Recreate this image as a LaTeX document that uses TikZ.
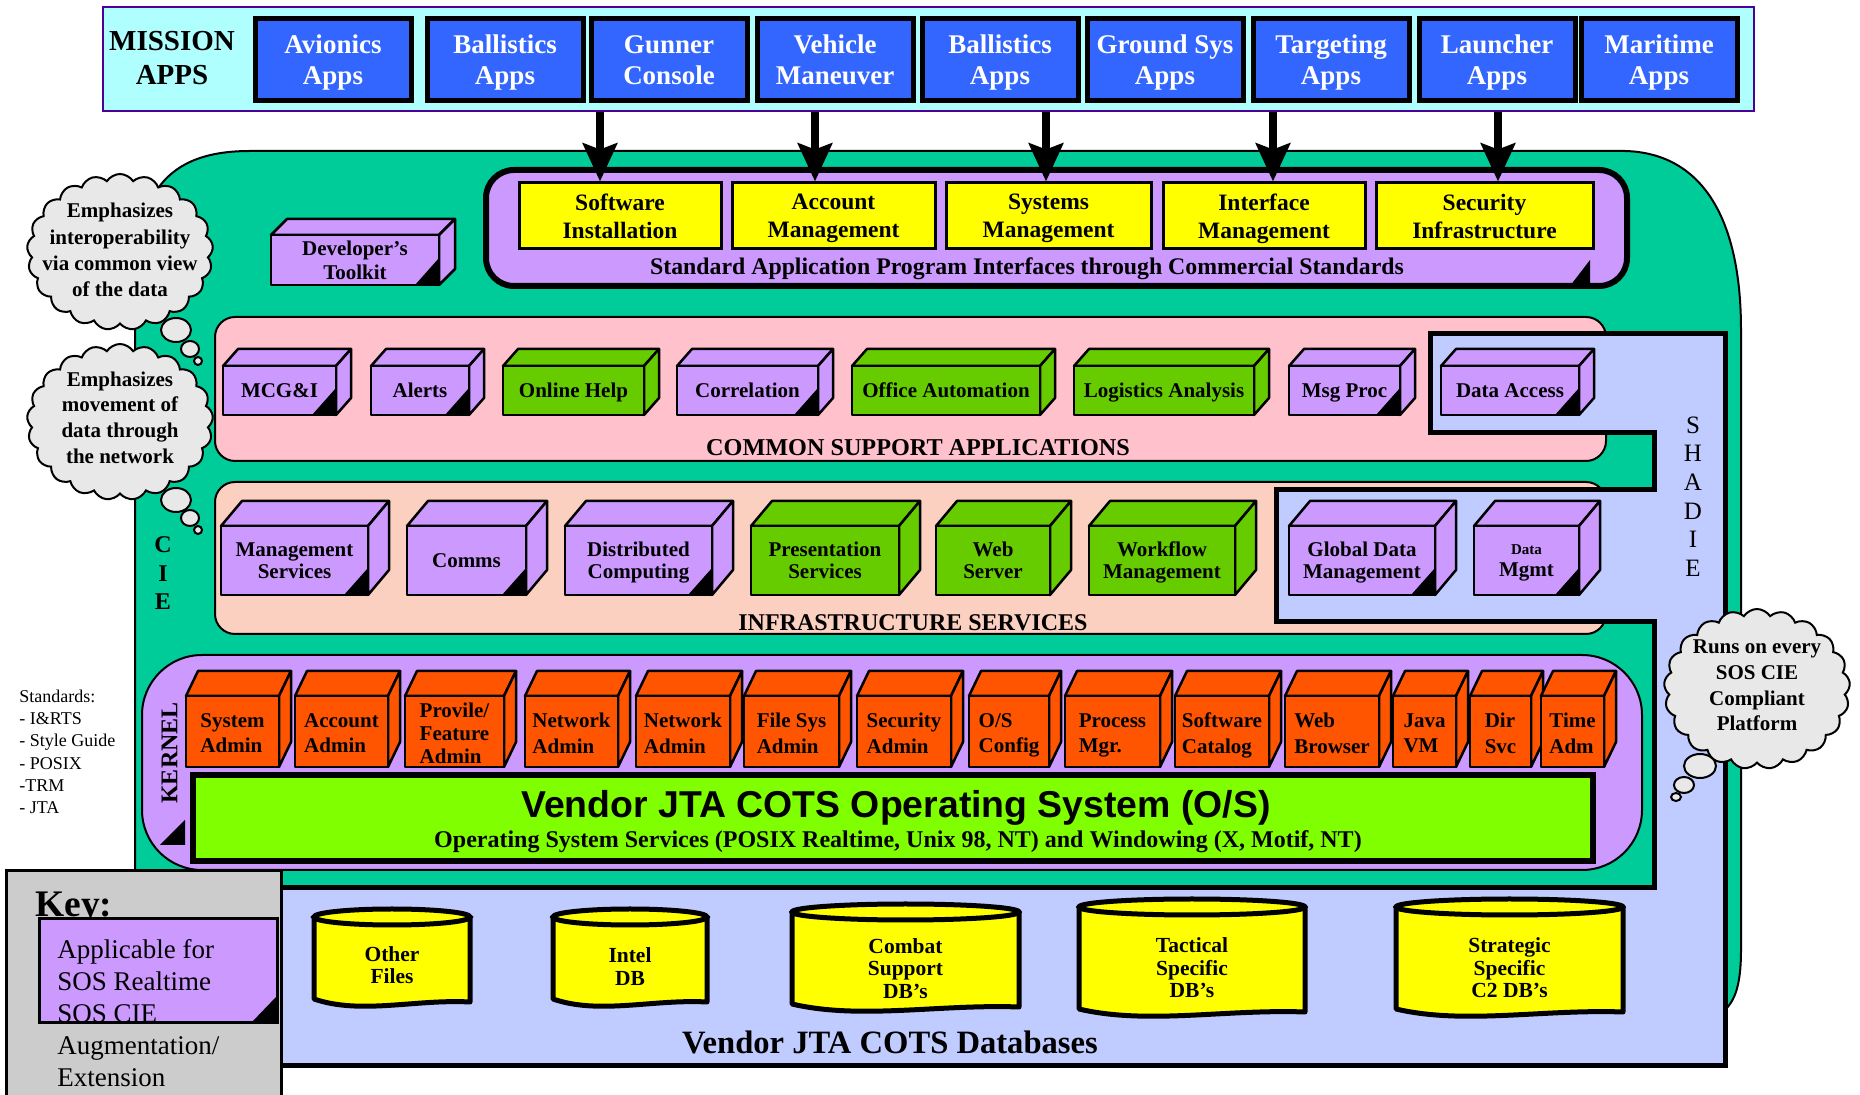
\documentclass[tikz,border=0pt]{standalone}
\usepackage{fontspec}
\setmainfont{Liberation Serif}
\newfontfamily\sansfam{Liberation Sans}
\usetikzlibrary{shapes.symbols,arrows.meta}
\newcommand\fs[2]{\fontsize{#1}{#2}\selectfont}
\definecolor{missionbg}{HTML}{B0FFFF}
\definecolor{missionbd}{HTML}{4B0096}
\definecolor{appblue}{HTML}{3366FF}
\definecolor{cieg}{HTML}{00CC99}
\definecolor{lav}{HTML}{CC99FF}
\definecolor{yel}{HTML}{FFFF00}
\definecolor{pinkb}{HTML}{FFC1CC}
\definecolor{peach}{HTML}{FCD0C0}
\definecolor{gbox}{HTML}{66CC00}
\definecolor{obox}{HTML}{FF5500}
\definecolor{osg}{HTML}{80FF00}
\definecolor{shade}{HTML}{C0CCFF}
\definecolor{keyg}{HTML}{CCCCCC}
\definecolor{cloudg}{HTML}{E8E8E8}
\def\cdx{15}\def\cdy{17}
% #1 name #2 x1 #3 ytop #4 x2 #5 ybot #6 fill #7 text #8 triangle
\newcommand\cubebox[8]{%
  \filldraw[fill=#6, cubeline] (#2,#3) -- ({#2+\cdx},{#3-\cdy}) -- ({#4+\cdx},{#3-\cdy}) -- (#4,#3) -- cycle;
  \filldraw[fill=#6, cubeline] (#4,#3) -- ({#4+\cdx},{#3-\cdy}) -- ({#4+\cdx},{#5-\cdy}) -- (#4,#5) -- cycle;
  \filldraw[fill=#6, cubeline] (#2,#3) rectangle (#4,#5);
  \ifnum#8=1 \fill (#4,#5) -- (#4,{#5-27}) -- ({#4-24},#5) -- cycle;\fi
  \node[cubetext] (#1) at ({(#2+#4)/2},{(#3+#5)/2+\ctoff}) {#7};
}
\def\ctoff{0}
% #1 name #2 x1 #3 x2 #4 ytop #5 ybot #6 text center y #7 text
\newcommand\dbcyl[7]{%
  \filldraw[fill=yel, draw=black, line width=2.5pt, line join=round] (#2,{#4+9}) -- (#2,{#5-9})
    .. controls ({#2+0.3*(#3-#2)},{#5+7}) and ({#2+0.65*(#3-#2)},{#5-9}) .. (#3,{#5-6}) -- (#3,{#4+9}) -- cycle;
  \filldraw[fill=yel, draw=black, line width=2.5pt] ({(#2+#3)/2},{#4+9}) ellipse [x radius={(#3-#2)/2}, y radius=8];
  \node[dbtext] (#1) at ({(#2+#3)/2},#6) {#7};
}
\begin{document}
\begin{tikzpicture}[x=0.5pt,y=-0.5pt,
  ts/.style={text depth=0pt},
  appbox/.style={draw=black, line width=2.5pt, fill=appblue, text=white, font=\bfseries\fs{13.5}{15.5}, align=center, minimum width=78pt, minimum height=41pt, inner sep=0pt, ts},
  ybox/.style={draw=black, line width=1.5pt, fill=yel, font=\bfseries\fs{11.75}{14}, align=center, minimum height=33pt, inner sep=0pt, ts},
  cubeline/.style={draw=black, line width=1.25pt, line join=round},
  cubetext/.style={font=\bfseries\fs{10.5}{11}, align=center, inner sep=0pt, ts},
  dbtext/.style={font=\bfseries\fs{10.75}{11.25}, align=center, inner sep=0pt, ts},
  lbl/.style={inner sep=0pt, ts},
  bigarrow/.style={line width=4pt, -{Stealth[length=19pt,width=17pt,inset=3pt]}},
  region/.style={draw=black, line width=1pt},
  cloudbox/.style={cloud, cloud puffs=21, cloud puff arc=115, cloud ignores aspect, draw=black, line width=1pt, fill=cloudg, inner sep=0pt},
  cloudtext/.style={font=\bfseries\fs{10.5}{13}, align=center, inner sep=0pt, ts},
  bubble/.style={fill=cloudg, draw=black, line width=1pt}
]
\useasboundingbox (0,0) rectangle (1860,1095);

% main green CIE region
\filldraw[fill=cieg, region] (135,1010) -- (135,290) .. controls (135,195) and (165,151) .. (250,151)
  -- (1625,151) .. controls (1700,153) and (1741,215) .. (1741,330) -- (1741,950)
  .. controls (1741,985) and (1735,1000) .. (1725,1010) -- cycle;

% mission apps
\node[draw=missionbd, line width=1.25pt, fill=missionbg, minimum width=825.5pt, minimum height=52pt, inner sep=0pt] (mission) at (928.5,59) {};
\node[lbl, font=\bfseries\fs{14.5}{17}, align=center] (mt) at (172,58) {MISSION\\APPS};
\node[appbox] (av) at (333,60) {Avionics\\Apps};
\node[appbox] (ba1) at (505,60) {Ballistics\\Apps};
\node[appbox] (gc) at (669,60) {Gunner\\Console};
\node[appbox] (vm) at (835,60) {Vehicle\\Maneuver};
\node[appbox] (ba2) at (1000,60) {Ballistics\\Apps};
\node[appbox] (gs) at (1165,60) {Ground Sys\\Apps};
\node[appbox] (ta) at (1331,60) {Targeting\\Apps};
\node[appbox] (la) at (1497,60) {Launcher\\Apps};
\node[appbox] (ma) at (1659,60) {Maritime\\Apps};

% API box
\node[draw=black, fill=lav, line width=3pt, rounded corners=14pt, minimum width=570.5pt, minimum height=58pt, inner sep=0pt] (api) at (1056.5,228) {};
\fill (1570,286) -- (1590,260) -- (1590,286) -- cycle;
\node[ybox, minimum width=101pt] (sw) at (620,216) {Software\\Installation};
\node[ybox, minimum width=101.5pt] (am) at (833.5,216) {Account\\Management};
\node[ybox, minimum width=102.5pt] (sm) at (1048.5,216) {Systems\\Management};
\node[ybox, minimum width=101pt] (im) at (1264,216) {Interface\\Management};
\node[ybox, minimum width=108.5pt] (si) at (1484.5,216) {Security\\Infrastructure};
\node[lbl, font=\bfseries\fs{11.9}{13}] (apit) at (1027,266) {Standard Application Program Interfaces through Commercial Standards};

% arrows
\coordinate (a1) at (600,111);
\coordinate (a2) at (815,111);
\coordinate (a3) at (1046,111);
\coordinate (a4) at (1273,111);
\coordinate (a5) at (1498,111);
\draw[bigarrow] (mission.south -| a1) -- (a1 |- sw.north);
\draw[bigarrow] (mission.south -| a2) -- (a2 |- am.north);
\draw[bigarrow] (mission.south -| a3) -- (a3 |- sm.north);
\draw[bigarrow] (mission.south -| a4) -- (a4 |- im.north);
\draw[bigarrow] (mission.south -| a5) -- (a5 |- si.north);

% developer's toolkit
\tikzset{cubetext/.style={font=\bfseries\fs{10.5}{12}, align=center, inner sep=0pt, ts}}
\def\cdx{16}\def\cdy{16}
\cubebox{dev}{271}{235}{439}{285}{lav}{Developer’s\\Toolkit}{1}

% common support applications
\filldraw[fill=pinkb, region, rounded corners=10pt] (215,317) rectangle (1606,461);
\node[lbl, font=\bfseries\fs{12.1}{13}] (csat) at (918,447) {COMMON SUPPORT APPLICATIONS};
% infrastructure services
\filldraw[fill=peach, region, rounded corners=10pt] (215,482) rectangle (1606,634);
\node[lbl, font=\bfseries\fs{12}{13}] (inft) at (913,623) {INFRASTRUCTURE SERVICES};

% SHADE region
\filldraw[fill=shade, draw=black, line width=2.5pt] (1430,334) -- (1725,334) -- (1725,1066) -- (250,1066) -- (250,888)
  -- (1654,888) -- (1654,622) -- (1276,622) -- (1276,490) -- (1654,490) -- (1654,433) -- (1430,433) -- cycle;
\node[lbl, font=\fs{12.5}{14.3}, align=center] (shadet) at (1693,496.5) {S\\H\\A\\D\\I\\E};
\node[lbl, font=\bfseries\fs{12}{14.25}, align=center] (ciet) at (163,573.5) {C\\I\\E};

\tikzset{cubetext/.style={font=\bfseries\fs{10.5}{11}, align=center, inner sep=0pt, ts}}
\def\cdx{15}\def\cdy{17}
\cubebox{mcg}{223}{366}{336}{415}{lav}{MCG\&I}{1}
\cubebox{alerts}{371}{366}{469}{415}{lav}{Alerts}{1}
\cubebox{help}{503}{366}{644}{415}{gbox}{Online Help}{0}
\cubebox{corr}{677}{366}{818}{415}{lav}{Correlation}{1}
\cubebox{office}{852}{366}{1040}{415}{gbox}{Office Automation}{0}
\cubebox{logi}{1074}{366}{1254}{415}{gbox}{Logistics Analysis}{0}
\cubebox{msg}{1289}{366}{1400}{415}{lav}{Msg Proc}{1}
\cubebox{daccess}{1441}{366}{1579}{415}{lav}{Data Access}{1}

\def\cdx{21}\def\cdy{25}
\cubebox{mgmt}{221}{526}{368}{595}{lav}{Management\\Services}{1}
\cubebox{comms}{407}{526}{526}{595}{lav}{Comms}{1}
\cubebox{dist}{565}{526}{712}{595}{lav}{Distributed\\Computing}{1}
\cubebox{pres}{751}{526}{899}{595}{gbox}{Presentation\\Services}{0}
\cubebox{web}{936}{526}{1050}{595}{gbox}{Web\\Server}{0}
\cubebox{wf}{1089}{526}{1235}{595}{gbox}{Workflow\\Management}{0}
\cubebox{gdm}{1289}{526}{1435}{595}{lav}{Global Data\\Management}{1}
\cubebox{dmgmt}{1474}{526}{1579}{595}{lav}{{\fs{7.5}{9}Data}\\Mgmt}{1}

% kernel
\filldraw[fill=lav, region, rounded corners=30pt] (142,655) rectangle (1642,870);
\node[lbl, font=\bfseries\fs{12}{14}, rotate=90] (kern) at (169.5,753) {KERNEL};
\fill (185,820) -- (185,845) -- (160,845) -- cycle;
\tikzset{cubetext/.style={font=\bfseries\fs{10.5}{12.75}, align=left, inner sep=0pt, ts}}
\def\cdx{12}\def\cdy{25}\def\ctoff{1.5}
\cubebox{ksa}{186}{696}{279}{767}{obox}{System\\Admin}{0}
\cubebox{kaa}{295}{696}{388}{767}{obox}{Account\\Admin}{0}
\cubebox{kpf}{405}{696}{504}{767}{obox}{Provile/\\[-1.25pt]Feature\\[-1.25pt]Admin}{0}
\cubebox{kna1}{525}{696}{618}{767}{obox}{Network\\Admin}{0}
\cubebox{kna2}{636}{696}{730}{767}{obox}{Network\\Admin}{0}
\cubebox{kfs}{744}{696}{839}{767}{obox}{File Sys\\Admin}{0}
\cubebox{ksec}{857}{696}{951}{767}{obox}{Security\\Admin}{0}
\cubebox{kos}{969}{696}{1049}{767}{obox}{O/S\\Config}{0}
\cubebox{kpm}{1065}{696}{1160}{767}{obox}{Process\\Mgr.}{0}
\cubebox{ksc}{1175}{696}{1269}{767}{obox}{Software\\Catalog}{0}
\cubebox{kwb}{1285}{696}{1379}{767}{obox}{Web\\Browser}{0}
\cubebox{kjv}{1393}{696}{1456}{767}{obox}{Java\\VM}{0}
\cubebox{kds}{1470}{696}{1531}{767}{obox}{Dir\\Svc}{0}
\cubebox{kta}{1541}{696}{1604}{767}{obox}{Time\\Adm}{0}
\def\ctoff{0}

% OS box
\node[draw=black, fill=osg, line width=3pt, minimum width=700pt, minimum height=43pt, inner sep=0pt] (os) at (893,818) {};
\node[lbl, font=\sansfam\bfseries\fs{18.7}{20}] (ost) at (896,803.5) {Vendor JTA COTS Operating System (O/S)};
\node[lbl, font=\bfseries\fs{12}{13}] (oss) at (898,839) {Operating System Services (POSIX Realtime, Unix 98, NT) and Windowing (X, Motif, NT)};

% databases
\dbcyl{dbo}{314}{470}{908}{1008}{965}{Other\\Files}
\dbcyl{dbi}{553}{707}{908}{1008}{966.5}{Intel\\DB}
\dbcyl{dbc}{792}{1019}{903}{1013}{968.5}{Combat\\Support\\DB’s}
\dbcyl{dbt}{1079}{1305}{898}{1018}{968}{Tactical\\Specific\\DB’s}
\dbcyl{dbs}{1396}{1623}{898}{1018}{968}{Strategic\\Specific\\C2 DB’s}
\node[lbl, font=\bfseries\fs{16.3}{18}] (dbt) at (890,1042) {Vendor JTA COTS Databases};

% key
\filldraw[fill=keyg, draw=black, line width=1.5pt] (6,871) rectangle (281,1110);
\node[lbl, font=\bfseries\fs{18.75}{20}, anchor=west] (key) at (35,904.5) {Key:};
\filldraw[fill=lav, draw=black, line width=1.5pt] (39,919) rectangle (277,1023);
\fill (252,1022) -- (276,997) -- (276,1022) -- cycle;
\node[lbl, font=\fs{13.5}{15.95}, align=left, anchor=west] (keytxt) at (57,1012.75) {Applicable for\\SOS Realtime\\SOS CIE\\Augmentation/\\Extension};

% standards
\node[lbl, font=\fs{9}{11.15}, align=left, anchor=west] (std) at (19,751.75) {Standards:\\- I\&RTS\\- Style Guide\\- POSIX\\-TRM\\- JTA};

% clouds
\node[cloudbox, minimum width=93pt, minimum height=78pt] (cl1) at (120,252) {};
\node[cloudtext, font=\bfseries\fs{10.5}{13.1}] (cl1t) at (120,250) {Emphasizes\\interoperability\\via common view\\of the data};
\filldraw[bubble] (176,330) ellipse [x radius=15, y radius=12];
\filldraw[bubble] (190,349) ellipse [x radius=9, y radius=8];
\filldraw[bubble] (198,361) ellipse [x radius=4, y radius=4];

\node[cloudbox, minimum width=93pt, minimum height=78pt] (cl2) at (120,422) {};
\node[cloudtext, font=\bfseries\fs{10.5}{12.85}] (cl2t) at (120,417.5) {Emphasizes\\movement of\\data through\\the network};
\filldraw[bubble] (176,500) ellipse [x radius=15, y radius=12];
\filldraw[bubble] (190,518) ellipse [x radius=9, y radius=8];
\filldraw[bubble] (198,530) ellipse [x radius=4, y radius=4];

\node[cloudbox, minimum width=93pt, minimum height=80pt] (cl3) at (1757,689) {};
\node[cloudtext, font=\bfseries\fs{10.5}{12.85}] (cl3t) at (1757,685.5) {Runs on every\\SOS CIE\\Compliant\\Platform};
\filldraw[bubble] (1700,766) ellipse [x radius=16, y radius=12];
\filldraw[bubble] (1684,785) ellipse [x radius=10, y radius=8];
\filldraw[bubble] (1676,797) ellipse [x radius=5, y radius=4];
\end{tikzpicture}
\end{document}
